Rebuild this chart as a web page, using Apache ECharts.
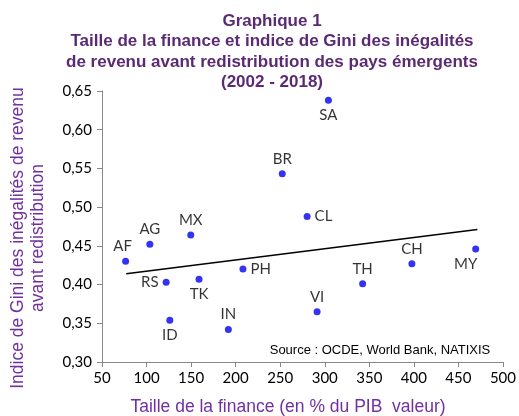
<!DOCTYPE html>
<html>
<head>
<meta charset="utf-8">
<script src="https://cdn.jsdelivr.net/npm/echarts@6/dist/echarts.min.js"></script>
<style>
  html, body { margin: 0; padding: 0; background: #fff; }
  #chart { width: 519px; height: 416px; }
</style>
</head>
<body>
<div id="chart"></div>
<script>
// pays (codes), taille de la finance (% PIB) et Gini avant redistribution
var codes   = ['AF', 'AG', 'MX', 'BR', 'SA', 'CL', 'RS', 'TK', 'PH', 'ID', 'IN', 'VI', 'TH', 'CH', 'MY'];
var finance = [76.5, 103.7, 149.6, 252.3, 304.1, 280.2, 122, 158.9, 208.2, 126.1, 191.8, 291.4, 342.5, 397.8, 469.4];
var gini    = [0.430, 0.452, 0.464, 0.543, 0.638, 0.488, 0.403, 0.407, 0.420, 0.354, 0.342, 0.365, 0.401, 0.427, 0.446];
// droite de tendance (extrémités)
var trendX = [77.2, 471.3];
var trendY = [0.414, 0.471];
var xTicks = [50, 100, 150, 200, 250, 300, 350, 400, 450, 500];
var yTicks = [0.30, 0.35, 0.40, 0.45, 0.50, 0.55, 0.60, 0.65];

// position des étiquettes par pays
var labelPos = {
    AF: ['top', [-3, 0]], AG: ['top', [0, 0]], MX: ['top', [0, 0]], BR: ['top', [0, 0]],
    SA: ['bottom', [0, 0]], CL: ['right', [0, 0]], RS: ['left', [0, 0]], TK: ['bottom', [0, 0]],
    PH: ['right', [0, 0]], ID: ['bottom', [0, 0]], IN: ['top', [0, 0]], VI: ['top', [0, 0]],
    TH: ['top', [0, 0]], CH: ['top', [0, 0]], MY: ['bottom', [-10, 0]]
};

var points = codes.map(function (c, i) {
    return {
        name: c,
        value: [finance[i], gini[i]],
        label: { position: labelPos[c][0], offset: labelPos[c][1] }
    };
});

var chart = echarts.init(document.getElementById('chart'));
var titleColor = '#5b2a74';
var axisTitleColor = '#7030a0';
var tickFont = 'Lato, "Open Sans", sans-serif';

var option = {
    animation: false,
    backgroundColor: '#fff',
    grid: { left: 102, right: 15, top: 91, bottom: 54, containLabel: false },
    xAxis: {
        type: 'value',
        min: 50, max: 500, interval: 50,
        axisLine: { show: true, lineStyle: { color: '#888', width: 1 } },
        axisTick: { show: true, length: 5, lineStyle: { color: '#888' } },
        splitLine: { show: false },
        axisLabel: {
            color: '#000', fontFamily: tickFont, fontSize: 15, margin: 9,
            formatter: function (v) { return xTicks.indexOf(v) >= 0 ? String(v) : ''; }
        }
    },
    yAxis: {
        type: 'value',
        min: 0.30, max: 0.65, interval: 0.05,
        axisLine: { show: true, lineStyle: { color: '#888', width: 1 } },
        axisTick: { show: true, length: 5, lineStyle: { color: '#888' } },
        splitLine: { show: false },
        axisLabel: {
            color: '#000', fontFamily: tickFont, fontSize: 15, margin: 10,
            formatter: function (v) { return v.toFixed(2).replace('.', ','); }
        }
    },
    series: [
        {
            type: 'line',
            data: [[trendX[0], trendY[0]], [trendX[1], trendY[1]]],
            symbol: 'none',
            lineStyle: { color: '#000', width: 1.5 },
            z: 1
        },
        {
            type: 'scatter',
            data: points,
            symbolSize: 7,
            itemStyle: { color: '#0000f0' },
            label: {
                show: true,
                formatter: '{b}',
                color: '#000',
                fontFamily: tickFont,
                fontSize: 15,
                distance: 4
            },
            z: 3
        }
    ],
    graphic: [
        {
            type: 'text', x: 272, y: 11,
            style: {
                text: 'Graphique 1\nTaille de la finance et indice de Gini des inégalités\nde revenu avant redistribution des pays émergents\n(2002 - 2018)',
                font: 'bold 17px "Liberation Sans", Arial, sans-serif',
                fill: titleColor, align: 'center', verticalAlign: 'top', lineHeight: 20.5
            }
        },
        {
            type: 'text', x: 288, y: 407,
            style: {
                text: 'Taille de la finance (en % du PIB  valeur)',
                font: '17.5px "Liberation Sans", Arial, sans-serif',
                fill: axisTitleColor, align: 'center', verticalAlign: 'middle'
            }
        },
        {
            type: 'text', x: 28, y: 238, rotation: Math.PI / 2,
            style: {
                text: 'Indice de Gini des inégalités de revenu\navant redistribution',
                font: '17.5px "Liberation Sans", Arial, sans-serif',
                fill: axisTitleColor, align: 'center', verticalAlign: 'middle', lineHeight: 20
            }
        },
        {
            type: 'text', x: 380, y: 350,
            style: {
                text: 'Source : OCDE, World Bank, NATIXIS',
                font: '13px "Liberation Sans", Arial, sans-serif',
                fill: '#000', align: 'center', verticalAlign: 'middle'
            }
        }
    ]
};
chart.setOption(option);
</script>
</body>
</html>
